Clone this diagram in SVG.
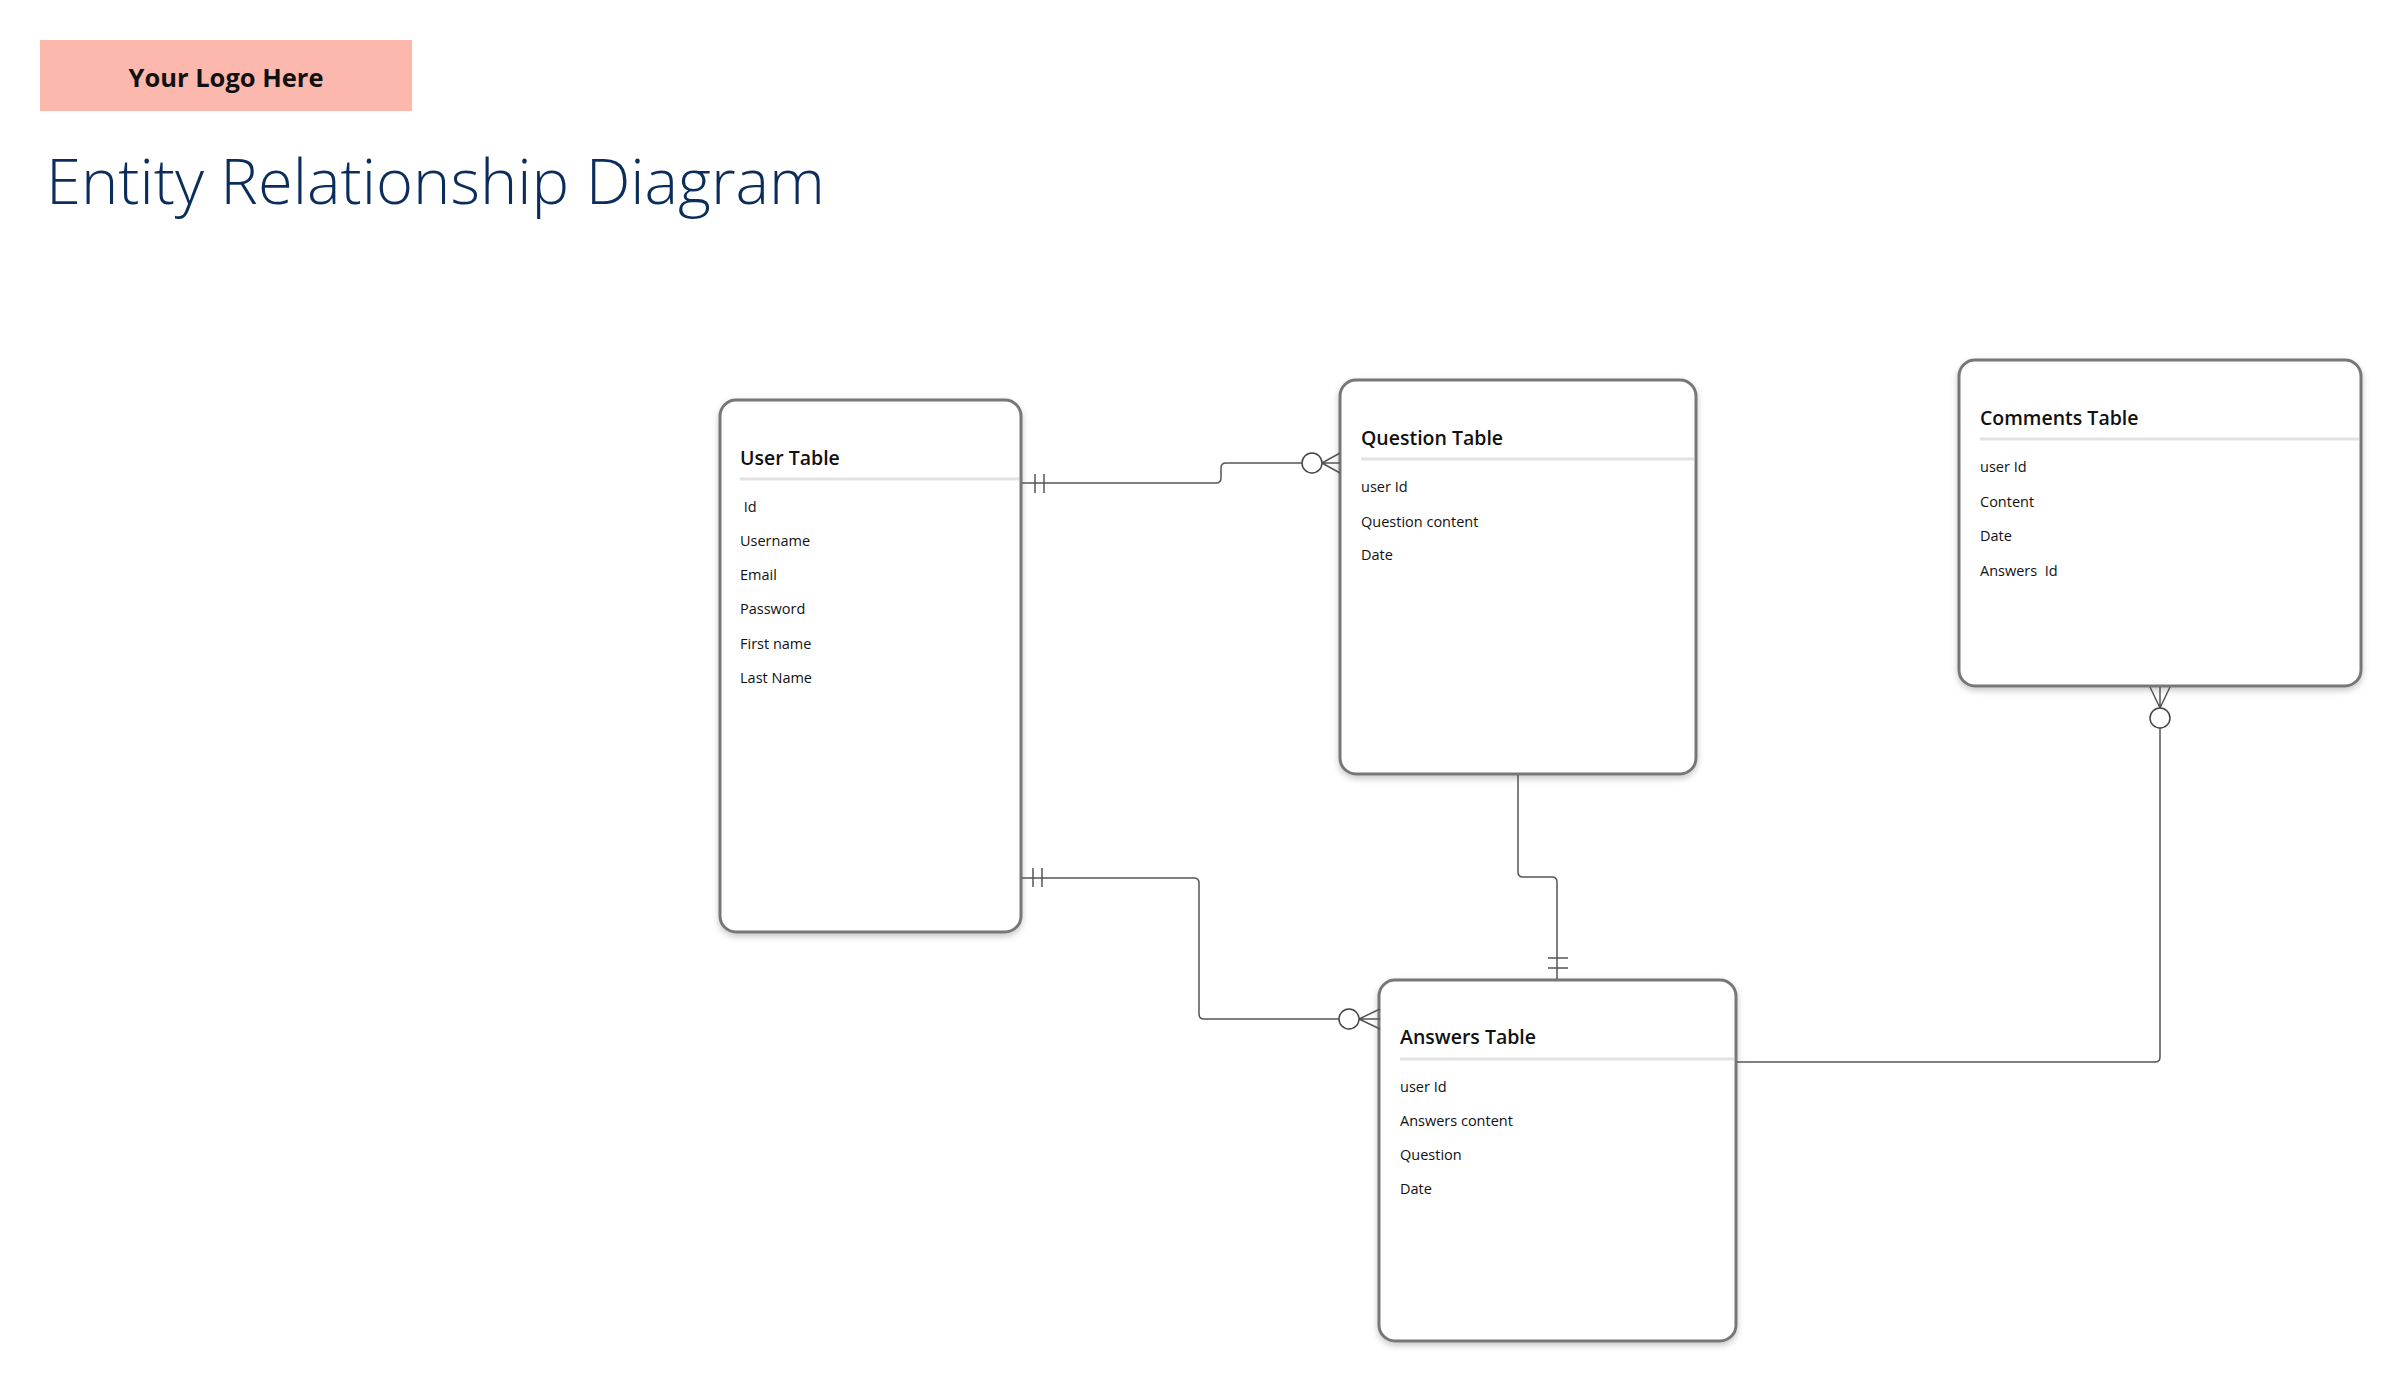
<svg xmlns="http://www.w3.org/2000/svg" width="2401" height="1381" viewBox="0 0 2401 1381">
<defs>
<filter id="sh" x="-10%" y="-10%" width="120%" height="120%">
<feDropShadow dx="0" dy="3" stdDeviation="3" flood-color="#000" flood-opacity="0.22"/>
</filter>
<style>
.box{fill:#fff;stroke:#777;stroke-width:3;filter:url(#sh)}
.sep{stroke:#e2e2e2;stroke-width:3}
.ttl{font-family:"Open Sans","Liberation Sans",sans-serif;font-weight:600;font-size:19.5px;fill:#111}
.row{font-family:"Open Sans","Liberation Sans",sans-serif;font-size:14.5px;fill:#111;white-space:pre}
.ln{fill:none;stroke:#555;stroke-width:1.5}
.cir{fill:#fff;stroke:#444;stroke-width:1.5}
</style>
</defs>
<rect width="2401" height="1381" fill="#fff"/>
<g id="logo">
<rect x="40" y="40" width="372" height="71" fill="#fdb8ae"/>
<text x="226" y="87" text-anchor="middle" font-family="Open Sans, Liberation Sans, sans-serif" font-weight="700" font-size="25" fill="#111" textLength="195" lengthAdjust="spacingAndGlyphs">Your Logo Here</text>
</g>
<g id="title">
<text x="46" y="204" font-family="Open Sans, Liberation Sans, sans-serif" font-weight="300" font-size="62" fill="#0b2d5c" textLength="779" lengthAdjust="spacingAndGlyphs">Entity Relationship Diagram</text>
</g>
<g id="user-table">
<rect class="box" x="720" y="400" width="301" height="532" rx="16"/>
<text class="ttl" x="740" y="465">User Table</text>
<line class="sep" x1="740" y1="479" x2="1019" y2="479"/>
<text class="row" x="740" y="512" xml:space="preserve"> Id</text>
<text class="row" x="740" y="546">Username</text>
<text class="row" x="740" y="580">Email</text>
<text class="row" x="740" y="614">Password</text>
<text class="row" x="740" y="649">First name</text>
<text class="row" x="740" y="683">Last Name</text>
</g>
<g id="question-table">
<rect class="box" x="1340" y="380" width="356" height="394" rx="16"/>
<text class="ttl" x="1361" y="445">Question Table</text>
<line class="sep" x1="1361" y1="459" x2="1694" y2="459"/>
<text class="row" x="1361" y="492">user Id</text>
<text class="row" x="1361" y="527">Question content</text>
<text class="row" x="1361" y="560">Date</text>
</g>
<g id="comments-table">
<rect class="box" x="1959" y="360" width="402" height="326" rx="16"/>
<text class="ttl" x="1980" y="425">Comments Table</text>
<line class="sep" x1="1980" y1="439" x2="2359" y2="439"/>
<text class="row" x="1980" y="472">user Id</text>
<text class="row" x="1980" y="507">Content</text>
<text class="row" x="1980" y="541">Date</text>
<text class="row" x="1980" y="576" xml:space="preserve">Answers  Id</text>
</g>
<g id="answers-table">
<rect class="box" x="1379" y="980" width="357" height="361" rx="16"/>
<text class="ttl" x="1400" y="1044">Answers Table</text>
<line class="sep" x1="1400" y1="1059" x2="1734" y2="1059"/>
<text class="row" x="1400" y="1092">user Id</text>
<text class="row" x="1400" y="1126">Answers content</text>
<text class="row" x="1400" y="1160">Question</text>
<text class="row" x="1400" y="1194">Date</text>
</g>
<g id="connectors">
<path class="ln" d="M1022,483 H1216 Q1221,483 1221,478 V468 Q1221,463 1226,463 H1302"/>
<path class="ln" d="M1035,474 V493 M1044,474 V493"/>
<path class="ln" d="M1322,463 L1340,453 M1322,463 H1340 M1322,463 L1340,473"/>
<circle class="cir" cx="1312" cy="463" r="10"/>
<path class="ln" d="M1022,878 H1194 Q1199,878 1199,883 V1014 Q1199,1019 1204,1019 H1339"/>
<path class="ln" d="M1033,868 V887 M1042,868 V887"/>
<path class="ln" d="M1359,1019 L1380,1009 M1359,1019 H1380 M1359,1019 L1380,1029"/>
<circle class="cir" cx="1349" cy="1019" r="10"/>
<path class="ln" d="M1518,775 V872 Q1518,877 1523,877 H1552 Q1557,877 1557,882 V979"/>
<path class="ln" d="M1548,958 H1568 M1548,968 H1568"/>
<path class="ln" d="M1737,1062 H2155 Q2160,1062 2160,1057 V728"/>
<path class="ln" d="M2160,708 L2150,687 M2160,708 V687 M2160,708 L2170,687"/>
<circle class="cir" cx="2160" cy="718" r="10"/>
</g>
</svg>
